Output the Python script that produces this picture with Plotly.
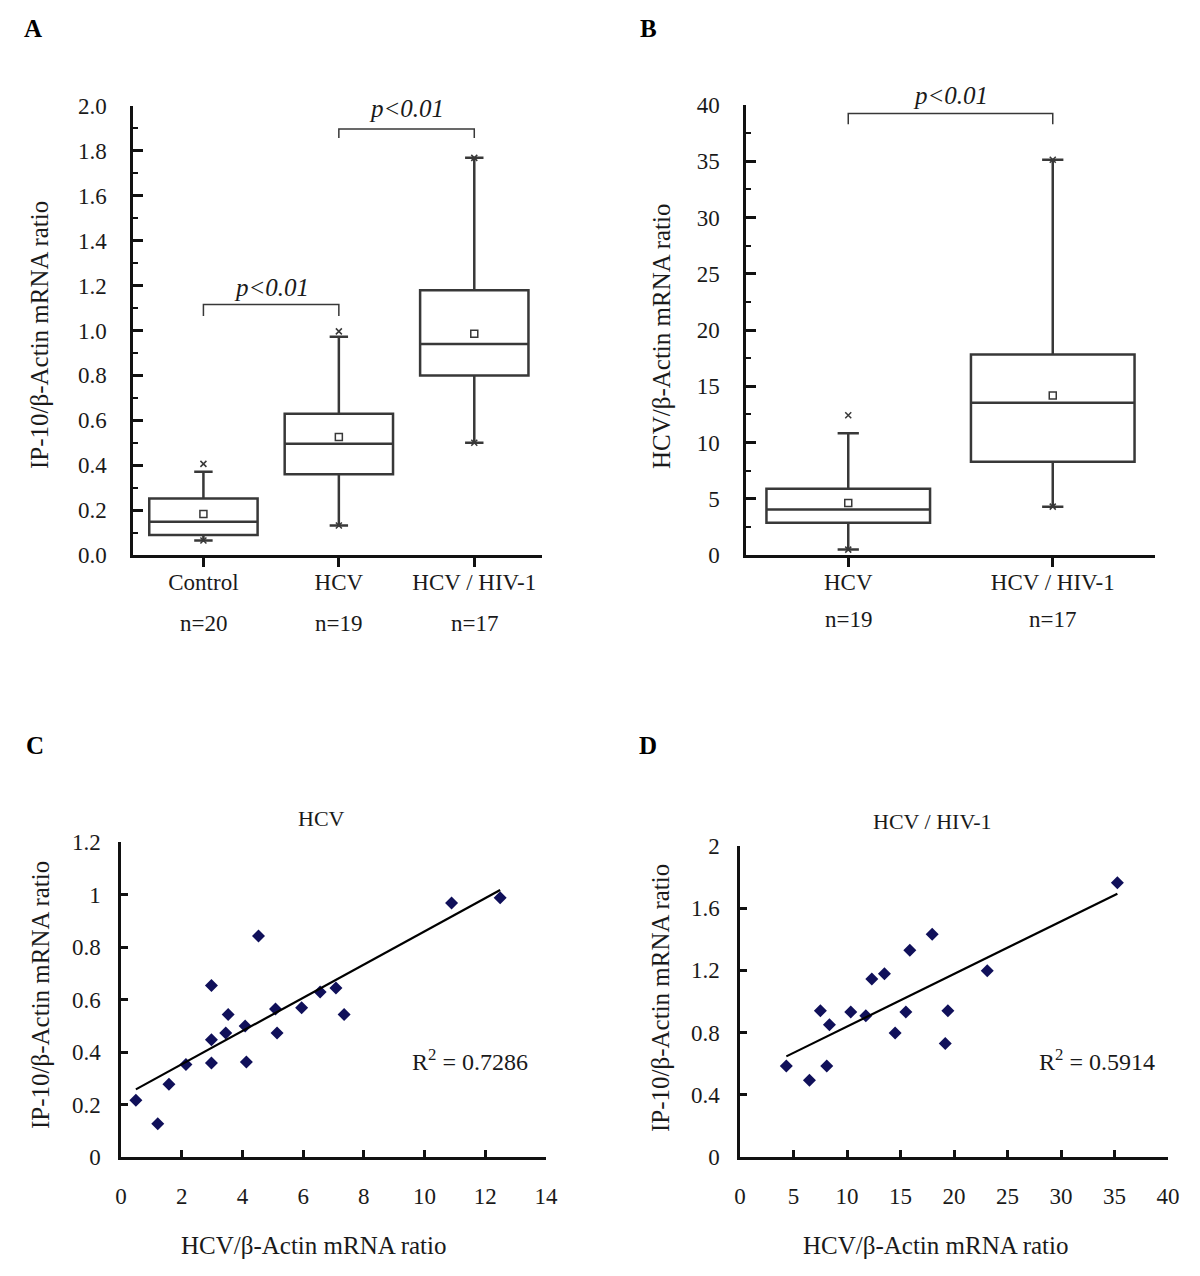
import numpy as np
import plotly.graph_objects as go

# ---------------- DATA ----------------
# Panel A: IP-10/beta-actin mRNA ratio box summaries
a_groups = ["Control", "HCV", "HCV / HIV-1"]
a_n = ["n=20", "n=19", "n=17"]
a_q1 = [0.089, 0.360, 0.800]
a_median = [0.148, 0.496, 0.940]
a_q3 = [0.252, 0.629, 1.179]
a_low = [0.065, 0.131, 0.500]
a_high = [0.371, 0.972, 1.769]
a_mean = [0.183, 0.526, 0.986]
a_min = [0.065, 0.131, 0.500]
a_max = [0.406, 0.996, 1.769]

# Panel B: HCV/beta-actin mRNA ratio box summaries
b_groups = ["HCV", "HCV / HIV-1"]
b_n = ["n=19", "n=17"]
b_q1 = [2.87, 8.28]
b_median = [4.04, 13.54]
b_q3 = [5.89, 17.83]
b_low = [0.48, 4.30]
b_high = [10.83, 35.13]
b_mean = [4.62, 14.17]
b_min = [0.48, 4.30]
b_max = [12.42, 35.13]

# Significance brackets: (left group, right group, bar level, leg bottom, label level)
a_brackets = [(1, 2, 1.116, 1.065, 1.19), (2, 3, 1.897, 1.857, 1.99)]
b_brackets = [(1, 2, 39.24, 38.3, 40.8)]
sig_label = "p<0.01"

# Panel C: HCV mono-infected, HCV vs IP-10
c_x = [0.49, 1.21, 1.58, 2.14, 2.98, 2.98, 2.98, 3.45, 3.53, 4.09, 4.13, 4.53,
       5.09, 5.14, 5.95, 6.56, 7.08, 7.35, 10.89, 12.49]
c_y = [0.216, 0.127, 0.277, 0.352, 0.653, 0.447, 0.358, 0.472, 0.543, 0.499,
       0.362, 0.842, 0.564, 0.472, 0.569, 0.629, 0.644, 0.543, 0.968, 0.988]
c_r2 = "R<sup>2</sup> = 0.7286"

# Panel D: HCV/HIV-1 co-infected, HCV vs IP-10
d_x = [4.33, 6.49, 7.51, 8.11, 8.36, 10.35, 11.76, 12.32, 13.50, 14.50, 15.50,
       15.87, 17.96, 19.18, 19.43, 23.11, 35.27]
d_y = [0.586, 0.494, 0.940, 0.586, 0.850, 0.933, 0.908, 1.144, 1.178, 0.798,
       0.933, 1.330, 1.433, 0.730, 0.940, 1.197, 1.764]
d_r2 = "R<sup>2</sup> = 0.5914"

# ---------------- STYLE ----------------
PAGE_OFF = 8               # default page body margin
W, H = 1200 - PAGE_OFF, 1276 - PAGE_OFF
FONT = "Liberation Serif, Times New Roman, serif"
TXT = "#1a1a1a"
BOXC = "#383838"
DOT = "#10105a"
A_YMAX = 2.0
B_YMAX = 40


def px(x):
    return (x - PAGE_OFF) / W


def py(y):
    return 1 - (y - PAGE_OFF) / H


fig = go.Figure()

# ---- Panel A boxes ----
for i in range(3):
    pos = i + 1
    fig.add_trace(go.Box(
        x=[pos], q1=[a_q1[i]], median=[a_median[i]], q3=[a_q3[i]],
        lowerfence=[a_low[i]], upperfence=[a_high[i]],
        width=0.8, whiskerwidth=0.17, boxpoints=False,
        line=dict(color=BOXC, width=2.5), fillcolor="rgba(255,255,255,0)",
        xaxis="x", yaxis="y", showlegend=False, hoverinfo="skip"))
fig.add_trace(go.Scatter(
    x=[1, 2, 3], y=a_mean, mode="markers", xaxis="x", yaxis="y",
    marker=dict(symbol="square-open", size=7, color=BOXC, line=dict(width=1.5)),
    showlegend=False, hoverinfo="skip"))
fig.add_trace(go.Scatter(
    x=[1, 2, 3] * 2, y=a_min + a_max, mode="markers", xaxis="x", yaxis="y",
    marker=dict(symbol="x-thin-open", size=6, color=BOXC, line=dict(width=1.5, color=BOXC)),
    showlegend=False, hoverinfo="skip"))

# ---- Panel B boxes ----
for i in range(2):
    pos = i + 1
    fig.add_trace(go.Box(
        x=[pos], q1=[b_q1[i]], median=[b_median[i]], q3=[b_q3[i]],
        lowerfence=[b_low[i]], upperfence=[b_high[i]],
        width=0.8, whiskerwidth=0.13, boxpoints=False,
        line=dict(color=BOXC, width=2.5), fillcolor="rgba(255,255,255,0)",
        xaxis="x2", yaxis="y2", showlegend=False, hoverinfo="skip"))
fig.add_trace(go.Scatter(
    x=[1, 2], y=b_mean, mode="markers", xaxis="x2", yaxis="y2",
    marker=dict(symbol="square-open", size=7, color=BOXC, line=dict(width=1.5)),
    showlegend=False, hoverinfo="skip"))
fig.add_trace(go.Scatter(
    x=[1, 2] * 2, y=b_min + b_max, mode="markers", xaxis="x2", yaxis="y2",
    marker=dict(symbol="x-thin-open", size=6, color=BOXC, line=dict(width=1.5, color=BOXC)),
    showlegend=False, hoverinfo="skip"))

# ---- Panel C scatter + fit ----
fig.add_trace(go.Scatter(
    x=c_x, y=c_y, mode="markers", xaxis="x3", yaxis="y3",
    marker=dict(symbol="diamond", size=10, color=DOT),
    showlegend=False, hoverinfo="skip"))
cs, ci = np.polyfit(c_x, c_y, 1)
cfx = [min(c_x), max(c_x)]
fig.add_trace(go.Scatter(
    x=cfx, y=[cs * v + ci for v in cfx], mode="lines", xaxis="x3", yaxis="y3",
    line=dict(color="black", width=2.2), showlegend=False, hoverinfo="skip"))

# ---- Panel D scatter + fit ----
fig.add_trace(go.Scatter(
    x=d_x, y=d_y, mode="markers", xaxis="x4", yaxis="y4",
    marker=dict(symbol="diamond", size=10, color=DOT),
    showlegend=False, hoverinfo="skip"))
ds, di = np.polyfit(d_x, d_y, 1)
dfx = [min(d_x), max(d_x)]
fig.add_trace(go.Scatter(
    x=dfx, y=[ds * v + di for v in dfx], mode="lines", xaxis="x4", yaxis="y4",
    line=dict(color="black", width=2.2), showlegend=False, hoverinfo="skip"))

# ---------------- AXES ----------------
tickfont = dict(family=FONT, size=23, color=TXT)
axline = dict(showline=True, linecolor="#111", linewidth=2.5, showgrid=False,
              zeroline=False, tickcolor="#111", tickwidth=2.5, tickfont=tickfont,
              automargin=False)

fig.update_layout(
    xaxis=dict(domain=[px(133), px(542)], range=[0.48, 3.5], anchor="y",
               tickvals=[1, 2, 3], ticktext=a_groups, ticks="outside", ticklen=9,
               ticklabelstandoff=-4, **axline),
    yaxis=dict(domain=[py(555), py(106)], range=[0, A_YMAX], anchor="x",
               tickvals=[0, 0.2, 0.4, 0.6, 0.8, 1.0, 1.2, 1.4, 1.6, 1.8, 2.0],
               tickformat=".1f", ticks="inside", ticklen=10, ticklabelstandoff=19,
               minor=dict(ticks="inside", ticklen=5, dtick=0.1, tickcolor="#111", tickwidth=2),
               **axline),
    xaxis2=dict(domain=[px(746), px(1155)], range=[0.5, 2.5], anchor="y2",
                tickvals=[1, 2], ticktext=b_groups, ticks="outside", ticklen=9,
                ticklabelstandoff=-4, **axline),
    yaxis2=dict(domain=[py(555), py(105)], range=[0, B_YMAX], anchor="x2",
                tickvals=[0, 5, 10, 15, 20, 25, 30, 35, 40], ticks="inside", ticklen=10,
                ticklabelstandoff=19,
                minor=dict(ticks="inside", ticklen=5, dtick=2.5, tickcolor="#111", tickwidth=2),
                **axline),
    xaxis3=dict(domain=[px(121), px(546)], range=[0, 14], anchor="y3",
                tickvals=[0, 2, 4, 6, 8, 10, 12, 14], ticks="inside", ticklen=7,
                ticklabelstandoff=17, **axline),
    yaxis3=dict(domain=[py(1157), py(842)], range=[0, 1.2], anchor="x3",
                tickvals=[0, 0.2, 0.4, 0.6, 0.8, 1, 1.2], ticks="inside", ticklen=7,
                ticklabelstandoff=13, **axline),
    xaxis4=dict(domain=[px(740), px(1168)], range=[0, 40], anchor="y4",
                tickvals=[0, 5, 10, 15, 20, 25, 30, 35, 40], ticks="inside", ticklen=7,
                ticklabelstandoff=17, **axline),
    yaxis4=dict(domain=[py(1157), py(846)], range=[0, 2], anchor="x4",
                tickvals=[0, 0.4, 0.8, 1.2, 1.6, 2], ticks="inside", ticklen=7,
                ticklabelstandoff=13, **axline),
)

# ---------------- BRACKETS ----------------
shapes = []
annotations = []


def ann(**kw):
    base = dict(showarrow=False, xanchor="center", yanchor="middle")
    base.update(kw)
    annotations.append(base)


for (xr, yr, ymax, brackets) in [("x", "y", A_YMAX, a_brackets), ("x2", "y2", B_YMAX, b_brackets)]:
    for (l, r, top, leg, lab) in brackets:
        shapes.append(dict(type="path", xref=xr, yref=yr,
                           path=f"M {l} {leg} L {l} {top} L {r} {top} L {r} {leg}",
                           line=dict(color=BOXC, width=1.5)))
        ann(x=(l + r) / 2, y=lab / ymax, xref=xr, yref=f"{yr} domain",
            text=f"<i>{sig_label}</i>", font=dict(family=FONT, size=25, color=TXT))

# n labels
for i, t in enumerate(a_n):
    ann(x=i + 1, y=py(623), xref="x", yref="paper", text=t,
        font=dict(family=FONT, size=23, color=TXT))
for i, t in enumerate(b_n):
    ann(x=i + 1, y=py(619), xref="x2", yref="paper", text=t,
        font=dict(family=FONT, size=23, color=TXT))

# panel letters
for letter, lx, ly in [("A", 33, 28), ("B", 648, 28), ("C", 35, 745), ("D", 648, 745)]:
    ann(x=px(lx), y=py(ly), xref="paper", yref="paper", text=f"<b>{letter}</b>",
        font=dict(family=FONT, size=25, color="black"))

# axis titles
ttl = dict(family=FONT, size=25, color=TXT)
ann(x=px(40), y=py(335), xref="paper", yref="paper", text="IP-10/β-Actin mRNA ratio",
    textangle=-90, font=ttl)
ann(x=px(662), y=py(337), xref="paper", yref="paper", text="HCV/β-Actin mRNA ratio",
    textangle=-90, font=ttl)
ann(x=px(40), y=py(995), xref="paper", yref="paper", text="IP-10/β-Actin mRNA ratio",
    textangle=-90, font=ttl)
ann(x=px(660), y=py(998), xref="paper", yref="paper", text="IP-10/β-Actin mRNA ratio",
    textangle=-90, font=ttl)
ann(x=px(313), y=py(1245), xref="paper", yref="paper", text="HCV/β-Actin mRNA ratio", font=ttl)
ann(x=px(935), y=py(1245), xref="paper", yref="paper", text="HCV/β-Actin mRNA ratio", font=ttl)
# panel titles
ann(x=px(321), y=py(818), xref="paper", yref="paper", text="HCV",
    font=dict(family=FONT, size=22, color=TXT))
ann(x=px(933), y=py(821), xref="paper", yref="paper", text="HCV / HIV-1",
    font=dict(family=FONT, size=22, color=TXT))
# R^2
ann(x=px(470), y=py(1060), xref="paper", yref="paper", text=c_r2,
    font=dict(family=FONT, size=24, color=TXT))
ann(x=px(1097), y=py(1060), xref="paper", yref="paper", text=d_r2,
    font=dict(family=FONT, size=24, color=TXT))

fig.update_layout(
    width=W, height=H, margin=dict(l=0, r=0, t=0, b=0, autoexpand=False),
    paper_bgcolor="white", plot_bgcolor="white",
    shapes=shapes, annotations=annotations, showlegend=False,
    font=dict(family=FONT, color=TXT),
)

fig.write_html("out.html")
